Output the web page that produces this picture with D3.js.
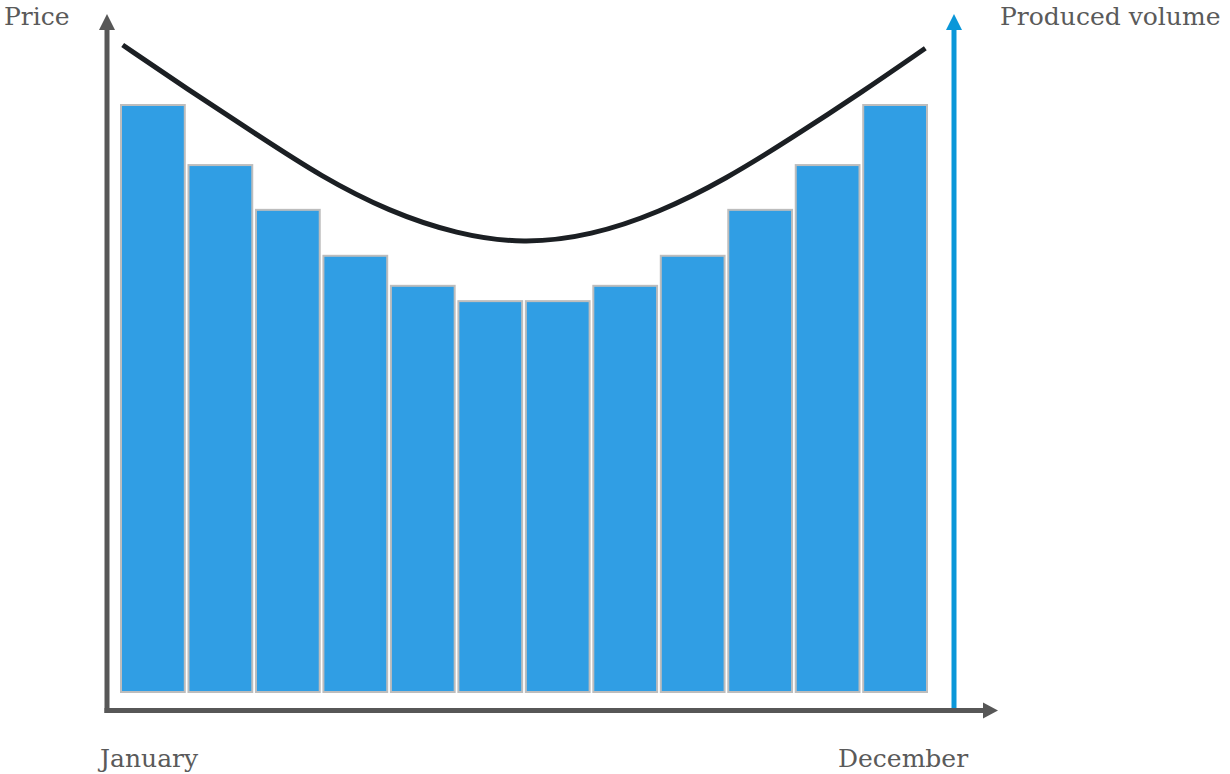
<!DOCTYPE html>
<html>
<head>
<meta charset="utf-8">
<script src="https://cdn.jsdelivr.net/npm/d3@7/dist/d3.min.js"></script>
<style>
  html, body { margin: 0; padding: 0; background: #fff; }
  svg { display: block; }
  text { font-family: "DejaVu Serif", serif; fill: #5a5a5a; }
</style>
</head>
<body>
<svg id="chart" width="1230" height="774"></svg>
<script>
// ---- data ----
const months = ["Jan","Feb","Mar","Apr","May","Jun","Jul","Aug","Sep","Oct","Nov","Dec"];
const volume = [100, 89.8, 82.2, 74.4, 69.3, 66.7, 66.7, 69.3, 74.4, 82.2, 89.8, 100];
const priceT = [0.04, 1, 2, 3, 4, 5, 6, 7, 8, 9, 10, 11, 11.96];
const priceV = [100, 93.2, 86.4, 79.6, 74.3, 70.8, 69.3, 70.6, 74.1, 79.3, 85.8, 92.6, 99.5];
const labels = { yLeft: "Price", yRight: "Produced volume", xStart: "January", xEnd: "December" };

// ---- layout ----
const svg = d3.select("#chart");
const x0 = 120, x1 = 928, yBase = 693;

const xBand = d3.scaleBand().domain(months).range([x0, x1]).paddingInner(0.025).paddingOuter(0);
const yVol = d3.scaleLinear().domain([0, 100]).range([yBase, 104]);
const xPos = d3.scaleLinear().domain([0, 12]).range([x0, x1]);
const yPrice = d3.scaleLinear().domain([0, 100]).range([yBase, 45]);

// bars
svg.append("g").selectAll("rect").data(volume).join("rect")
  .attr("x", (d, i) => xBand(months[i]) + 1)
  .attr("y", d => yVol(d) + 1)
  .attr("width", xBand.bandwidth() - 2)
  .attr("height", d => yBase - yVol(d) - 2)
  .attr("fill", "#309ee4")
  .attr("stroke", "#bdbdbd")
  .attr("stroke-width", 2);

// price curve
const pts = priceT.map((t, i) => [t, priceV[i]]);
svg.append("path")
  .datum(pts)
  .attr("fill", "none")
  .attr("stroke", "#1b1f23")
  .attr("stroke-width", 5)
  .attr("d", d3.line().x(d => xPos(d[0])).y(d => yPrice(d[1])).curve(d3.curveBasis));

// axes
const axisGray = "#575757", axisBlue = "#0a97d9";
// right blue axis
svg.append("line").attr("x1", 954).attr("x2", 954).attr("y1", 709).attr("y2", 28)
  .attr("stroke", axisBlue).attr("stroke-width", 5);
svg.append("path").attr("d", "M954,14 L962,30 L946,30 Z").attr("fill", axisBlue);
// left axis
svg.append("line").attr("x1", 107).attr("x2", 107).attr("y1", 713).attr("y2", 28)
  .attr("stroke", axisGray).attr("stroke-width", 5);
svg.append("path").attr("d", "M107,14 L115,30 L99,30 Z").attr("fill", axisGray);
// bottom axis
svg.append("line").attr("x1", 104.5).attr("x2", 985).attr("y1", 710.5).attr("y2", 710.5)
  .attr("stroke", axisGray).attr("stroke-width", 5);
svg.append("path").attr("d", "M998,710.5 L983,702.5 L983,718.5 Z").attr("fill", axisGray);

// labels
svg.append("text").attr("x", 4).attr("y", 25).attr("font-size", 25).text(labels.yLeft);
svg.append("text").attr("x", 1000).attr("y", 25).attr("font-size", 25).text(labels.yRight);
svg.append("text").attr("x", 100).attr("y", 767).attr("font-size", 25).text(labels.xStart);
svg.append("text").attr("x", 838).attr("y", 767).attr("font-size", 25).text(labels.xEnd);
</script>
</body>
</html>
